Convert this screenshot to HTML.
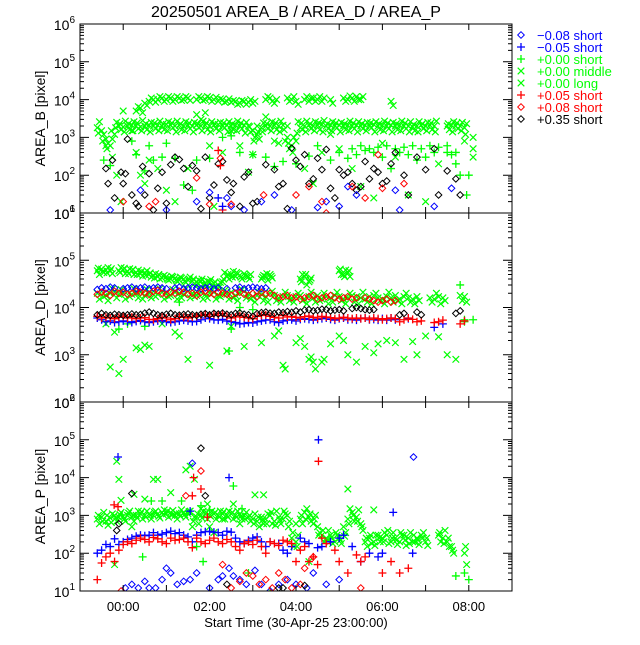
<!DOCTYPE html>
<html><head><meta charset="utf-8"><style>
body{margin:0;background:#fff;}
svg text{font-family:"Liberation Sans",sans-serif;}
</style></head><body>
<svg id="chart" width="640" height="640" viewBox="0 0 640 640" xmlns="http://www.w3.org/2000/svg">
<rect width="640" height="640" fill="#fff"/>
<text x="296" y="17" font-size="16" text-anchor="middle">20250501 AREA_B / AREA_D / AREA_P</text>
<text x="296" y="627" font-size="13" text-anchor="middle">Start Time (30-Apr-25 23:00:00)</text>
<g id="panels"></g>
<g id="legend"></g>
</svg>
<script>
// ---- data (t = hours after 30-Apr-25 23:00) ----
const xTickLabels = ["00:00","02:00","04:00","06:00","08:00"];
const xTickHours = [1,3,5,7,9];
const panelNames = ["AREA_B [pixel]","AREA_D [pixel]","AREA_P [pixel]"];
const panelMinExp = [1,2,1];
const bandStep = 0.1;

// Panel 1 (AREA_B)
const p1MidLoT0 = 0.4;
const p1MidLoA = [1800,1500,900,600,1200,2000,1900,2000,2100,2000,1900,2000,2100,2000,2100,2000,2200,2100,2000,2100,2000,2100,2000,2100,2000,2100,2000,2100,2200,2000,2100,2000,2100,2000,2100,2000,1500,1200,1800,2000,2000,2100,2000,2100,1000,600,800,1800,2000,2100,2000,2100,2200,2000,2100,2000,2100,2000,2100,2000,2100,2000,2100,2000,2200,2000,2100,2000,2100,2000,2100,2000,2000,1900,2000,2100,2000,2100,2000,null,null,2000,2100,2000,2000,1800];
const p1MidLoB = [2600,1200,700,900,2500,1600,2700,1600,2600,1700,2800,1600,2500,1700,2700,1600,2600,1800,2700,1600,2600,1700,2500,1800,2700,1600,2600,1700,2500,1800,2600,1600,2700,1700,2500,1400,1000,900,2400,1700,2600,1600,2700,800,500,1000,2600,1600,2700,1700,2600,1600,2800,1700,2600,1800,2500,1600,2700,1700,2600,1700,2500,1800,2600,1600,2700,1700,2500,1600,2700,1700,2600,1500,2600,1700,2500,1600,2700,null,null,1600,2600,1700,2500,2300];
const p1MidLoC = [1300,800,500,1500,1800,2300,1400,2300,1500,2400,1500,2300,1400,2400,1500,2300,1500,2400,1400,2300,1500,2400,1400,2300,1500,2400,1400,2300,1500,2400,1400,2300,1500,2400,1300,1900,800,1400,1400,2300,1500,2400,1400,1600,700,400,1300,2400,1400,2300,1500,2400,1400,2300,1500,2400,1400,2300,1500,2400,1400,2300,1500,2400,1400,2300,1500,2400,1400,2300,1500,2400,1400,2200,1400,2300,1500,2400,1400,null,null,2300,1400,2400,1500,1200];
const p1LongHiT0 = 1.3;
const p1LongHi = [5000,6000,8000,9000,10000,10000,11000,10000,11000,10000,11000,10000,11000,null,10000,11000,10000,11000,10000,9000,10000,9000,8500,9000,8000,9000,8500,8000,null,null,10000,11000,8000,null,null,11000,10000,9000,null,10000,9000,11000,10000,9000,null,10000,null,null,11000,10000,11000,12000,10000,null,null,null,null,null,null,9000];
const p1LongHiB = [6500,4500,7000,11000,8500,12000,9000,12000,9000,12000,9500,12000,9500,null,12000,9500,12000,9000,11500,10500,8500,10500,9500,7500,9500,7500,10000,9000,null,null,12000,9000,10000,null,null,9000,12000,7500,null,12000,11000,9000,12000,11000,null,8000,null,null,9000,12500,9000,10000,12000,null,null,null,null,null,null,7000];
const p1GreenPlus = [[0.55,250],[0.7,180],[1.2,800],[1.3,350],[1.5,130],[1.6,600],[1.7,250],[1.9,300],[2.0,700],[2.2,280],[2.4,55],[2.6,40],[2.7,250],[3.0,280],[3.3,1000],[3.5,1100],[3.7,400],[4.0,350],[4.3,300],[4.5,170],[4.7,230],[5.0,200],[5.3,320],[5.5,600],[5.8,250],[6.0,400],[6.2,280],[6.4,350],[6.6,450],[6.8,400],[7.0,300],[7.2,150],[7.4,400],[7.6,350],[7.8,250],[8.0,300],[8.2,400],[8.5,400],[8.6,350],[8.7,200],[8.8,100],[9.0,100],[8.95,30],[6.3,500],[6.5,600],[6.7,500],[6.9,550],[7.1,600],[7.3,500],[7.5,550],[7.7,600],[7.9,500],[8.1,600],[8.3,550],[8.5,600],[8.7,400]];
const p1GreenX = [[0.6,600],[0.75,300],[0.85,100],[0.95,20],[1.0,5000],[1.2,1500],[1.3,400],[1.4,100],[1.5,60],[1.6,250],[1.8,150],[2.0,40],[2.2,20],[2.5,150],[2.7,4000],[2.8,3000],[2.9,4500],[3.0,600],[3.1,15],[3.3,400],[3.5,1500],[3.7,600],[3.9,120],[4.0,350],[4.1,2000],[4.3,3500],[4.5,800],[4.6,700],[4.8,2000],[5.2,150],[5.4,60],[5.6,400],[5.8,1200],[6.0,500],[6.3,150],[6.5,50],[6.8,25],[7.0,700],[7.3,300],[7.6,30],[8.0,20],[8.3,200],[8.9,800],[9.1,500],[9.1,300],[9.1,1000]];
const p1Black = [[0.6,150],[0.65,60],[0.75,250],[0.8,25],[0.95,120],[1.0,60],[1.05,110],[1.1,900],[1.2,30],[1.3,18],[1.35,15],[1.45,170],[1.5,30],[1.6,110],[1.7,12],[1.8,45],[1.9,120],[2.0,18],[2.1,190],[2.2,300],[2.3,260],[2.4,150],[2.5,50],[2.6,180],[2.7,130],[2.8,13],[2.9,300],[3.0,25],[3.1,55],[3.2,200],[3.3,230],[3.4,75],[3.5,35],[3.55,60],[3.7,15],[3.8,90],[3.9,120],[4.0,18],[4.1,20],[4.3,190],[4.5,140],[4.6,50],[4.7,60],[4.8,13],[4.9,520],[5.0,250],[5.1,170],[5.2,350],[5.3,60],[5.4,80],[5.5,280],[5.6,140],[5.7,480],[5.8,45],[5.9,25],[6.0,140],[6.1,100],[6.2,120],[6.3,60],[6.4,40],[6.5,50],[6.6,230],[6.7,80],[6.8,150],[6.9,120],[7.0,60],[7.1,70],[7.2,200],[7.3,400],[7.5,100],[7.6,30],[7.8,300],[8.0,140],[8.2,500],[8.3,30],[8.5,130],[8.7,80],[8.8,30]];
const p1BlueDiamond = [[0.7,12],[1.4,40],[2.0,12],[2.7,20],[3.0,35],[3.4,25],[3.5,15],[3.8,12],[4.2,20],[4.5,30],[4.9,12],[5.5,14],[5.7,20],[6.0,15],[6.2,50],[6.4,30],[7.3,40],[7.4,12],[8.2,15],[8.6,45]];
const p1RedDiamond = [[1.0,20],[1.6,15],[1.75,20],[2.7,85],[3.0,17],[3.25,280],[3.5,17],[4.25,30],[5.0,30],[5.3,50],[5.6,20],[5.7,10],[6.3,50],[6.6,25],[6.9,350],[7.0,45],[7.5,60]];
const p1RedPlus = [[3.2,450],[3.25,180],[3.3,12]];
const p1BluePlus = [[3.2,25],[3.3,15]];

// Panel 2 (AREA_D)
const p2LongHiT0 = 0.4;
const p2LongHi = [60000,65000,62000,60000,null,60000,62000,58000,60000,55000,52000,55000,50000,48000,45000,42000,45000,40000,42000,38000,40000,38000,36000,35000,36000,33000,35000,32000,30000,35000,45000,50000,45000,48000,52000,45000,null,null,40000,45000,50000,null,null,null,null,null,null,40000,45000,35000,null,null,null,null,null,null,60000,50000,55000];
const p2LongHiB = [50000,55000,70000,52000,null,70000,52000,66000,50000,62000,46000,60000,44000,52000,40000,48000,38000,44000,36000,42000,34000,44000,32000,38000,30000,36000,30000,28000,34000,55000,40000,58000,52000,40000,45000,50000,null,null,48000,38000,42000,null,null,null,null,null,null,50000,30000,42000,null,null,null,null,null,null,50000,62000,45000];
const p2LongHiC = [68000,58000,54000,66000,null,55000,68000,52000,64000,50000,58000,48000,54000,42000,50000,46000,40000,46000,38000,44000,36000,40000,40000,32000,40000,30000,39000,35000,27000,40000,50000,44000,55000,44000,48000,40000,null,null,44000,52000,46000,null,null,null,null,null,null,35000,50000,38000,null,null,null,null,null,null,65000,45000,60000];
const p2LongLoT0 = 0.4;
const p2LongLo = [20000,22000,18000,20000,21000,19000,20000,22000,19000,20000,21000,18000,20000,22000,19000,21000,20000,18000,21000,20000,19000,22000,20000,18000,21000,19000,20000,21000,18000,20000,19000,21000,18000,20000,22000,19000,17000,18000,19000,17000,20000,18000,16000,17000,18000,16000,17000,18000,15000,17000,16000,18000,15000,17000,16000,18000,17000,15000,16000,18000,17000,16000,15000,17000,18000,16000,15000,17000,16000,18000,15000,17000,16000,15000,17000,null,null,16000,15000,17000,16000,null,null,null,18000,17000];
const p2LongLoB = [15000,17000,14000,25000,16000,24000,15000,17000,25000,16000,15000,24000,16000,17000,25000,15000,17000,24000,15000,16000,25000,16000,17000,24000,15000,16000,24000,15000,17000,23000,15000,16000,14000,24000,16000,15000,13000,21000,14000,13000,22000,14000,13000,21000,14000,13000,20000,14000,12000,21000,13000,14000,20000,12000,13000,21000,14000,12000,20000,13000,12000,21000,13000,12000,20000,14000,12000,21000,13000,14000,12000,20000,13000,12000,14000,null,null,13000,20000,12000,14000,null,null,null,14000,13000];
const p2BlueDiaT0 = 0.4;
const p2BlueDia = [24000,26000,25000,27000,26000,null,25000,26000,27000,25000,26000,27000,25000,26000,27000,26000,25000,null,26000,27000,25000,26000,27000,26000,25000,26000,27000,25000,26000,null,25000,null,26000,27000,25000,26000,27000,26000,25000,26000];
const p2RedDiaT0 = 0.4;
const p2RedDia = [19000,21000,20000,18000,22000,20000,21000,19000,20000,22000,21000,20000,19000,22000,23000,20000,19000,21000,20000,22000,21000,19000,20000,18000,21000,22000,20000,19000,21000,20000,19000,18000,20000,21000,19000,18000,20000,17000,21000,19000,20000,18000,16000,17000,18000,16000,17000,15000,16000,17000,18000,15000,16000,17000,18000,16000,15000,16000,17000,15000,16000,null,16000,15000,14000,13000,14000,15000,13000,14000];
const p2BlackDiaT0 = 0.4;
const p2BlackDia = [7000,7500,7000,6800,7200,7000,6800,7000,7300,7000,7100,7600,8000,7500,7000,6800,7200,7500,7000,6900,7100,7300,7000,6800,7200,7400,7000,7500,7300,7600,7200,7000,7500,7700,7200,7000,6500,7400,7800,8000,7600,7500,8000,7800,8200,7900,8500,8000,8800,9000,8500,8700,9200,9000,8500,8800,9000,8500,null,9500,10000,9500,9000,8800,9000,null,null,null,null,null,7000,7500,null,null,8000,7000,null,null,null,null,null,null,null,7500,8500];
const p2RedPlusT0 = 0.4;
const p2RedPlus = [6500,6000,6200,6000,5800,6200,6500,6000,6300,5800,6000,6100,5600,5500,5800,6200,6000,5500,5800,6400,6200,6000,6300,6500,6800,7000,6500,7200,6800,7500,6500,6000,6300,6700,6200,6000,5800,6500,6800,7000,6500,6200,6000,6800,6300,6500,6200,6000,6400,6600,6200,6000,6500,6300,6100,5800,6000,6200,6000,5800,6000,5800,6000,5600,6000,5800,5500,5800,6000,5800,5000,5500,6000,5600,5000,5200,null,null,4800,5000,5400,null,null,null,4500,5200];
const p2BluePlusT0 = 0.4;
const p2BluePlus = [6000,5500,5000,5200,4800,5000,5200,5000,4800,5100,5300,5000,4800,5000,5200,5300,5000,4800,5000,5200,5400,5200,5000,5100,5500,6000,5800,5500,5400,5600,5200,5000,4800,4500,4600,4800,4700,5000,5200,5400,5500,5000,4800,5200,5400,5500,5200,5600,5800,5600,5400,5600,5800,6000,5600,5400,5800,6000,5500,5600,5400,5800,6000,5500,5600,5400,5800,5400,6000,5500,null,null,5800,null,null,null,null,null,3800,null,4500];
const p2GreenScatter = [[0.6,4500],[0.7,550],[0.8,3000],[0.9,400],[1.0,800],[1.3,1400],[1.4,1300],[1.5,1600],[1.6,1500],[2.2,3000],[2.5,800],[3.0,600],[3.5,4000],[3.8,1500],[4.2,1800],[4.5,2500],[4.6,3200],[4.7,600],[4.75,500],[5.3,800],[5.35,900],[5.6,700],[5.65,800],[6.2,1000],[6.4,700],[6.6,1500],[6.9,1700],[7.1,2000],[7.3,1800],[7.5,800],[7.7,1900],[7.8,1000],[8.0,2500],[8.3,2400],[8.5,1000],[8.7,800],[5.0,1800],[5.1,2200],[5.2,1500],[5.4,700],[5.45,500],[5.8,1700],[6.0,2500],[6.1,2000],[6.8,1100],[1.9,4500],[3.4,1200],[2.3,2500]];
const p2GreenPlus = [[0.9,3500],[1.1,4500],[1.5,4000],[3.45,1200],[3.5,3500],[8.9,5500],[8.9,5000],[9.1,5500],[8.8,30000],[2.3,13000],[3.7,10000],[4.0,9000]];

// Panel 3 (AREA_P)
const p3BandT0 = 0.4;
const p3BandA = [800,900,700,850,1000,900,950,1000,900,1000,1100,1000,1100,1000,1100,1200,1100,1200,1000,1100,1200,1100,500,900,1000,1100,1000,1100,1000,1100,1000,1100,1000,1100,1000,900,800,700,900,800,1000,700,900,800,1000,250,200,800,1200,900,600,500,300,250,300,200,250,500,800,1200,900,600,200,250,200,300,250,300,200,250,200,300,250,200,250,300,200,null,null,300,250,200,150,null,null,100];
const p3BandB = [600,1200,550,1100,700,1200,700,1300,700,1300,800,1300,800,1300,850,1400,900,1350,800,1400,900,1300,900,600,1300,800,1300,800,1300,800,1300,800,1300,800,1200,700,1100,500,600,1100,600,1300,600,1100,700,150,300,600,1500,700,1000,350,200,400,180,300,180,350,1500,700,1400,400,150,180,300,200,350,180,350,170,300,160,350,200,170,350,160,null,null,200,400,150,100,null,null,50];
const p3BandC = [1000,700,1000,650,850,1050,800,1150,1000,850,1250,900,1000,1200,950,1050,1300,1000,1150,950,1050,1250,700,1100,850,1200,950,1200,900,1250,900,1200,900,950,800,1000,600,900,750,600,1200,550,750,1300,500,350,150,1000,800,1100,800,300,400,220,260,350,220,280,600,1000,700,500,250,300,160,250,200,400,250,220,350,220,180,300,220,250,250,null,null,350,180,250,120,null,null,150];
const p3BluePlusT0 = 0.4;
const p3BluePlus = [100,120,170,150,240,170,200,230,250,280,300,290,300,350,300,320,350,380,330,350,300,270,200,300,350,370,380,360,350,300,380,360,250,200,180,220,250,270,200,150,200,null,180,120,100,150,null,250,200,180,null,140,150,null,200,null,250,300,null,150,null,60,null,100,null,80,100,null,null,null,null,null,null,100,null,null,null,null,null,null,null,null,null,null,null,null];
const p3RedPlusT0 = 0.4;
const p3RedPlus = [20,55,80,100,60,120,170,200,180,220,250,230,200,260,240,200,180,250,220,230,250,200,140,250,200,180,220,250,200,180,230,200,150,120,180,200,170,220,150,100,200,180,160,220,200,180,60,120,150,60,80,50,250,180,null,120,60,null,30,null,90,60,80,null,null,null,30,null,60,null,30,null,40,null,null,null,null,null,null,null,null,null,null,null,null,null];
const p3BluePlusOut = [[0.88,35000],[5.52,100000],[3.45,10000],[7.25,1200],[2.55,1300]];
const p3RedPlusOut = [[5.52,27000],[0.88,1700],[0.79,1900],[2.63,10000],[2.8,5000],[2.6,3300],[2.95,900]];
const p3BlueDia = [[1.05,12],[1.2,15],[1.35,12],[1.5,18],[1.6,12],[1.75,12],[1.9,20],[2.0,40],[2.1,30],[2.25,15],[2.4,18],[2.55,20],[2.7,30],[3.0,12],[3.2,20],[3.3,25],[3.45,40],[3.55,25],[3.7,20],[3.85,15],[4.05,35],[4.2,15],[4.4,10],[4.6,15],[4.8,20],[5.0,15],[5.4,30],[5.7,15],[6.0,20],[2.6,24000],[7.72,35000],[5.25,12]];
const p3RedDia = [[0.95,10],[3.3,50],[3.5,12],[3.7,18],[3.85,30],[4.0,25],[4.15,15],[4.3,20],[4.45,12],[4.6,30],[4.75,20],[4.9,12],[5.1,15],[5.4,80],[6.5,12],[2.8,15000],[2.45,3300],[5.2,40]];
const p3BlackDia = [[2.8,60000],[1.2,3800],[0.9,600],[2.9,3300],[4.6,12],[0.85,400],[3.4,15],[5.2,14],[4.7,12]];
const p3GreenX = [[0.85,27000],[0.9,9000],[0.95,2500],[1.25,3600],[1.5,2700],[1.7,9000],[1.8,9000],[2.1,4000],[2.45,16000],[2.55,20000],[2.65,9000],[2.95,2000],[3.55,2000],[4.05,3500],[4.25,3500],[5.0,600],[6.2,5000],[3.7,600],[3.0,500],[1.2,500],[0.8,50],[2.8,1500],[3.3,800],[3.1,350],[5.3,60],[6.8,1400]];
const p3GreenPlus = [[2.8,1800],[3.55,6000],[1.9,2400],[1.65,2400],[2.35,2400],[3.0,1400],[3.75,1500],[2.7,150],[1.45,80],[2.85,60],[9.0,20],[8.7,25],[8.9,30],[3.9,30],[4.4,10]];

const legendLabels = ["\u22120.08 short","\u22120.05 short","+0.00 short","+0.00 middle","+0.00 long","+0.05 short","+0.08 short","+0.35 short"];
const legendColors = ["#0000ff","#0000ff","#00ff00","#00ff00","#00ff00","#ff0000","#ff0000","#000000"];
const legendMarkers = ["diamond","plus","plus","x","x","plus","diamond","diamond"];

// ---- layout ----
const NS = "http://www.w3.org/2000/svg";
const PL = 80, PR = 512, TMIN = 0, TMAX = 10;
const panelTop = [24, 213, 402], PH = 189;
const GREEN = "#00ff00", BLUE = "#0000ff", RED = "#ff0000", BLACK = "#000000";
function xScale(t){ return PL + (t - TMIN) / (TMAX - TMIN) * (PR - PL); }
function yScale(p, v){ const lo = panelMinExp[p]; return panelTop[p] + PH - (Math.log10(v) - lo) / (6 - lo) * PH; }
function mk(tag, attrs, parent){ const e = document.createElementNS(NS, tag); for (const k in attrs) e.setAttribute(k, attrs[k]); parent.appendChild(e); return e; }
function marker(g, type, x, y, color){
  let e;
  if (type === "diamond") { e = mk("path", {d:`M${x} ${y-3.3}L${x+3.3} ${y}L${x} ${y+3.3}L${x-3.3} ${y}Z`, fill:"none", stroke:color, "stroke-width":1}, g); }
  else if (type === "plus") { e = mk("path", {d:`M${x-4} ${y}H${x+4}M${x} ${y-4}V${y+4}`, fill:"none", stroke:color, "stroke-width":1.3}, g); }
  else { e = mk("path", {d:`M${x-3.3} ${y-3.3}L${x+3.3} ${y+3.3}M${x-3.3} ${y+3.3}L${x+3.3} ${y-3.3}`, fill:"none", stroke:color, "stroke-width":1.2}, g); }
  return e;
}
function drawPairs(p, g, arr, type, color, name){
  arr.forEach(d => { const e = marker(g, type, xScale(d[0]), yScale(p, d[1]), color);
    
     });
}
function drawBand(p, g, t0, arr, type, color, name){
  arr.forEach((v, i) => { if (v === null) return; const e = marker(g, type, xScale(t0 + i * bandStep), yScale(p, v), color);
    
     });
}

const root = document.getElementById("panels");
for (let p = 0; p < 3; p++) {
  const pg = mk("g", {}, root);
  
  
  const top = panelTop[p], bot = top + PH;
  const cp = mk("clipPath", {id:"clip"+p}, pg);
  mk("rect", {x:PL, y:top, width:PR-PL, height:PH}, cp);
  const marks = mk("g", {"clip-path":`url(#clip${p})`}, pg);
  
  
  if (p === 0) {
    drawBand(p, marks, p1MidLoT0, p1MidLoA, "x", GREEN, "green-middle-point");
    drawBand(p, marks, p1MidLoT0 + 0.05, p1MidLoB, "x", GREEN, "green-middle-point");
    drawBand(p, marks, p1MidLoT0 + 0.025, p1MidLoC, "x", GREEN, "green-middle-point");
    drawBand(p, marks, p1LongHiT0, p1LongHi, "x", GREEN, "green-long-point");
    drawBand(p, marks, p1LongHiT0 + 0.05, p1LongHiB, "x", GREEN, "green-long-point");
    drawPairs(p, marks, p1GreenX, "x", GREEN, "green-long-point");
    drawPairs(p, marks, p1GreenPlus, "plus", GREEN, "green-short-point");
    drawPairs(p, marks, p1Black, "diamond", BLACK, "black-diamond-point");
    drawPairs(p, marks, p1BlueDiamond, "diamond", BLUE, "blue-diamond-point");
    drawPairs(p, marks, p1RedDiamond, "diamond", RED, "red-diamond-point");
    drawPairs(p, marks, p1RedPlus, "plus", RED, "red-plus-point");
    drawPairs(p, marks, p1BluePlus, "plus", BLUE, "blue-plus-point");
  } else if (p === 1) {
    drawBand(p, marks, p2LongHiT0, p2LongHi, "x", GREEN, "green-long-point");
    drawBand(p, marks, p2LongHiT0 + 0.05, p2LongHiB, "x", GREEN, "green-long-point");
    drawBand(p, marks, p2LongHiT0 + 0.025, p2LongHiC, "x", GREEN, "green-long-point");
    drawBand(p, marks, p2LongLoT0, p2LongLo, "x", GREEN, "green-middle-point");
    drawBand(p, marks, p2LongLoT0 + 0.05, p2LongLoB, "x", GREEN, "green-middle-point");
    drawPairs(p, marks, p2GreenScatter, "x", GREEN, "green-long-point");
    drawPairs(p, marks, p2GreenPlus, "plus", GREEN, "green-short-point");
    drawBand(p, marks, p2BlueDiaT0, p2BlueDia, "diamond", BLUE, "blue-diamond-point");
    drawBand(p, marks, p2RedDiaT0, p2RedDia, "diamond", RED, "red-diamond-point");
    drawBand(p, marks, p2BluePlusT0, p2BluePlus, "plus", BLUE, "blue-plus-point");
    drawBand(p, marks, p2RedPlusT0, p2RedPlus, "plus", RED, "red-plus-point");
    drawBand(p, marks, p2BlackDiaT0, p2BlackDia, "diamond", BLACK, "black-diamond-point");
  } else {
    drawBand(p, marks, p3BandT0, p3BandA, "x", GREEN, "green-middle-point");
    drawBand(p, marks, p3BandT0 + 0.05, p3BandB, "x", GREEN, "green-middle-point");
    drawBand(p, marks, p3BandT0 + 0.025, p3BandC, "x", GREEN, "green-middle-point");
    drawPairs(p, marks, p3GreenX, "x", GREEN, "green-long-point");
    drawPairs(p, marks, p3GreenPlus, "plus", GREEN, "green-short-point");
    drawBand(p, marks, p3BluePlusT0, p3BluePlus, "plus", BLUE, "blue-plus-point");
    drawBand(p, marks, p3RedPlusT0, p3RedPlus, "plus", RED, "red-plus-point");
    drawPairs(p, marks, p3BluePlusOut, "plus", BLUE, "blue-plus-point");
    drawPairs(p, marks, p3RedPlusOut, "plus", RED, "red-plus-point");
    drawPairs(p, marks, p3BlueDia, "diamond", BLUE, "blue-diamond-point");
    drawPairs(p, marks, p3RedDia, "diamond", RED, "red-diamond-point");
    drawPairs(p, marks, p3BlackDia, "diamond", BLACK, "black-diamond-point");
  }
  const fr = mk("rect", {x:PL, y:top, width:PR-PL, height:PH, fill:"none", stroke:"#000", "stroke-width":1}, pg);
  
  
  const yax = mk("g", {stroke:"#000", "stroke-width":1}, pg);
  
  
  let d = "";
  for (let e = panelMinExp[p]; e <= 6; e++) {
    for (let k = 1; k <= 9; k++) {
      if (e === 6 && k > 1) break;
      const y = yScale(p, k * Math.pow(10, e));
      const len = k === 1 ? 9 : 4;
      d += `M${PL} ${y}h${len}M${PR} ${y}h${-len}`;
    }
  }
  mk("path", {d:d}, yax);
  for (let e = panelMinExp[p]; e <= 6; e++) {
    const y = yScale(p, Math.pow(10, e));
    const t = mk("text", {x:PL-5, y:y+6, "font-size":14, "text-anchor":"end", stroke:"none", fill:"#000"}, pg);
    
    
    t.appendChild(document.createTextNode("10"));
    const s = mk("tspan", {dy:-7, "font-size":10}, t);
    s.textContent = String(e);
  }
  let dx = "";
  for (let h = 1; h <= 9; h++) { const x = xScale(h); dx += `M${x} ${bot}v-6M${x} ${top}v6`; }
  mk("path", {d:dx, stroke:"#000", "stroke-width":1}, pg);
  const yl = mk("text", {x:0, y:0, "font-size":14, "text-anchor":"middle", transform:`translate(45 ${top+PH/2}) rotate(-90)`}, pg);
  
  
  yl.textContent = panelNames[p];
}
xTickHours.forEach((h, i) => {
  const t = mk("text", {x:xScale(h), y:611, "font-size":13, "text-anchor":"middle"}, root);
  
  
  t.textContent = xTickLabels[i];
});
const lg = document.getElementById("legend");
legendLabels.forEach((lab, i) => {
  const y = 35 + i * 12;
  const g = mk("g", {}, lg);
  
  
  marker(g, legendMarkers[i], 521, y, legendColors[i]);
  const t = mk("text", {x:537, y:y+5, "font-size":13, fill:legendColors[i]}, g);
  t.textContent = lab;
});
</script>
</body></html>
